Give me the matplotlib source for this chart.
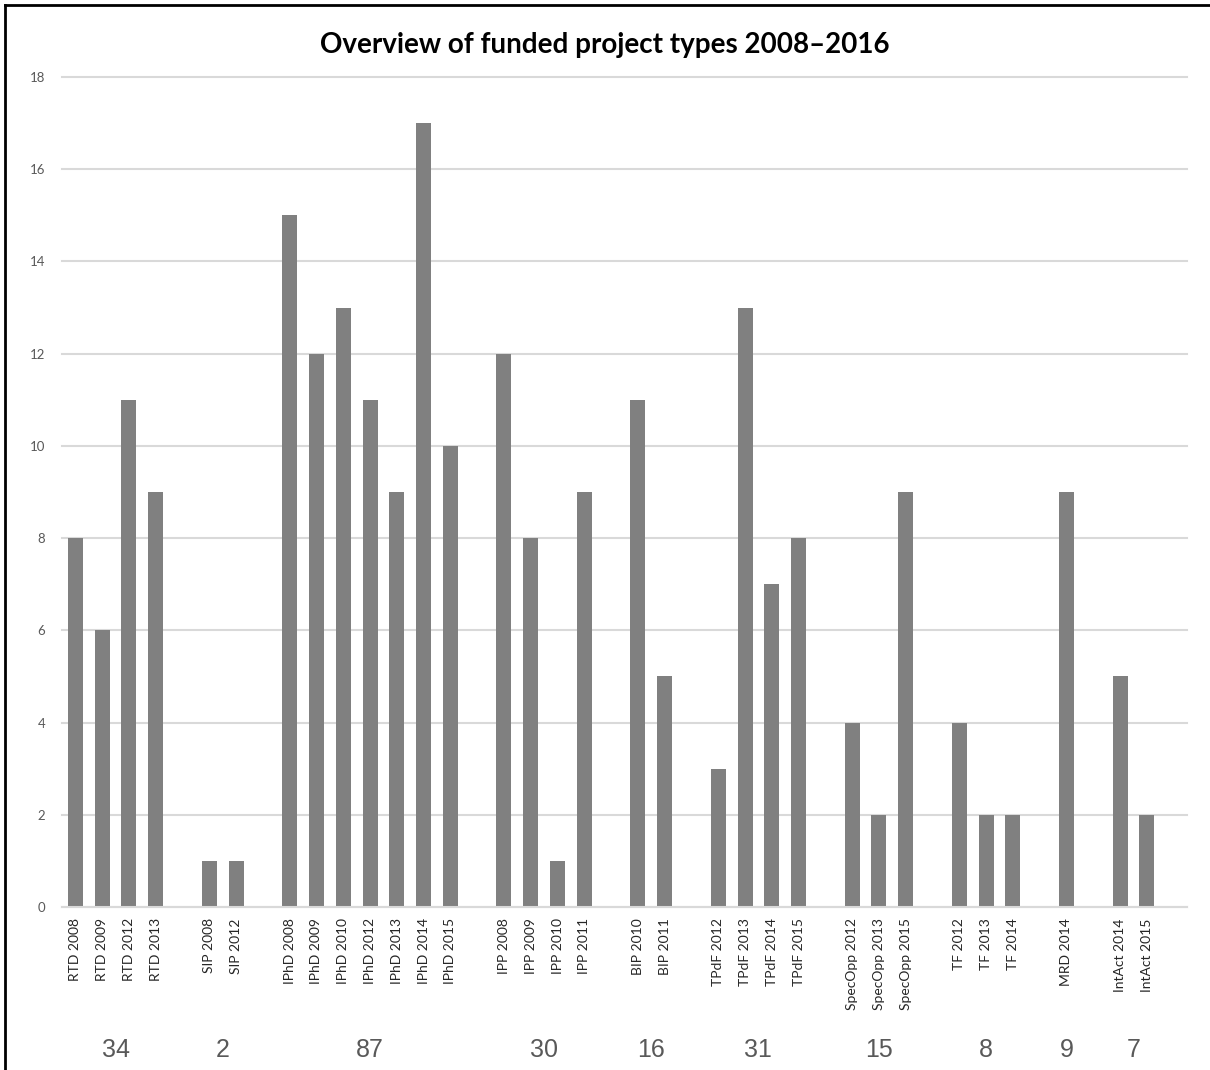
import matplotlib
matplotlib.use("Agg")
import matplotlib.pyplot as plt
from matplotlib.lines import Line2D
import numpy as np

plt.rcParams['font.family'] = ['Lato', 'DejaVu Sans']

# project types, their call years and funded projects per call
groups = ["RTD", "SIP", "IPhD", "IPP", "BIP", "TPdF", "SpecOpp", "TF", "MRD", "IntAct"]
years = [
    [2008, 2009, 2012, 2013],
    [2008, 2012],
    [2008, 2009, 2010, 2012, 2013, 2014, 2015],
    [2008, 2009, 2010, 2011],
    [2010, 2011],
    [2012, 2013, 2014, 2015],
    [2012, 2013, 2015],
    [2012, 2013, 2014],
    [2014],
    [2014, 2015],
]
counts = [
    [8, 6, 11, 9],
    [1, 1],
    [15, 12, 13, 11, 9, 17, 10],
    [12, 8, 1, 9],
    [11, 5],
    [3, 13, 7, 8],
    [4, 2, 9],
    [4, 2, 2],
    [9],
    [5, 2],
]

fig = plt.figure(figsize=(12.1, 10.7), dpi=100)
ax = fig.add_axes([0.0512, 0.1523, 0.9298, 0.7757])

# one empty slot between groups, like the spreadsheet layout
pos = []
labels = []
vals = []
centers = []
x = 0
for g, yrs, cs in zip(groups, years, counts):
    start = x
    for yr, c in zip(yrs, cs):
        pos.append(x)
        labels.append(f"{g} {yr}")
        vals.append(c)
        x += 1
    centers.append((start + x - 1) / 2)
    x += 1

ax.bar(pos, vals, width=0.56, color="#808080", zorder=2)
ax.set_xlim(-0.5, x - 0.5)
ax.set_ylim(0, 18)
ax.set_yticks(np.arange(0, 19, 2))
ax.set_xticks(pos)
ax.set_xticklabels(labels, rotation=90, fontsize=10, color="#262626")
ax.tick_params(axis="y", length=0, pad=12, labelsize=9.5, labelcolor="#595959")
ax.tick_params(axis="x", length=0, pad=8)
ax.grid(axis="y", color="#d9d9d9", linewidth=1.5, zorder=0)
ax.grid(axis="x", visible=False)
for s in ["top", "right", "left"]:
    ax.spines[s].set_visible(False)
ax.spines["bottom"].set_color("#d9d9d9")
ax.spines["bottom"].set_linewidth(1.5)
for gl in ax.get_ygridlines():
    gl.set_clip_on(False)

fig.text(0.5, 1 - 45 / 1070, "Overview of funded project types 2008\u20132016",
         ha="center", va="center", fontsize=20, fontweight="bold", color="black")

# group totals under the labels
for cx, cs in zip(centers, counts):
    xf = fig.transFigure.inverted().transform(ax.transData.transform((cx, 0)))[0]
    fig.text(xf, 1 - 1050 / 1070, str(sum(cs)), ha="center", va="center",
             fontsize=18, color="#595959", family="Liberation Sans")

# frame lines of the original screenshot
fig.add_artist(Line2D([5 / 1210, 5 / 1210], [0, 1 - 5 / 1070], color="black", lw=2,
                      transform=fig.transFigure))
fig.add_artist(Line2D([5 / 1210, 1], [1 - 5 / 1070, 1 - 5 / 1070], color="black", lw=2,
                      transform=fig.transFigure))

fig.savefig("out.png", dpi=100)
